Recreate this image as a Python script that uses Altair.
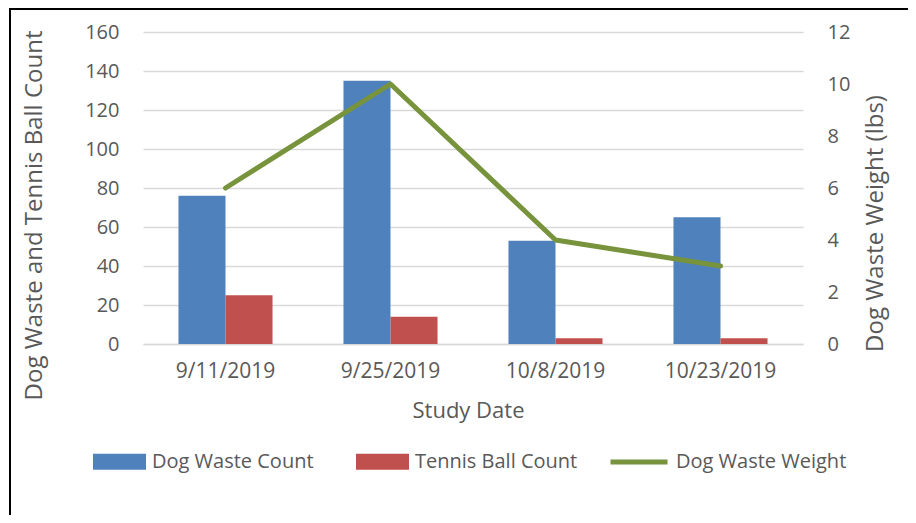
import altair as alt
import pandas as pd

dates = ["9/11/2019", "9/25/2019", "10/8/2019", "10/23/2019"]
dog_waste_count = [76, 135, 53, 65]
tennis_ball_count = [25, 14, 3, 3]
dog_waste_weight = [6, 10, 4, 3]
bar_series = ["Dog Waste Count", "Tennis Ball Count"]
line_series = "Dog Waste Weight"
left_ticks = [0, 20, 40, 60, 80, 100, 120, 140, 160]
right_ticks = [0, 2, 4, 6, 8, 10, 12]

FONT = "Open Sans"
TXT = "#595959"
GRID = "#D9D9D9"

bars_df = pd.DataFrame({
    "Date": dates * 2,
    "Series": [bar_series[0]] * 4 + [bar_series[1]] * 4,
    "Value": dog_waste_count + tennis_ball_count,
})
line_df = pd.DataFrame({"Date": dates, "Series": [line_series] * 4, "Weight": dog_waste_weight})
frame_df = pd.DataFrame({"k": [0]})

x_enc = alt.X(
    "Date:N", sort=dates,
    scale=alt.Scale(paddingInner=0.43, paddingOuter=0.215),
    axis=alt.Axis(title="Study Date", labelAngle=0, labelFont=FONT, labelFontSize=21,
                  labelColor=TXT, labelPadding=16, ticks=False, domainColor=GRID,
                  domainWidth=1.3, grid=False, titleFont=FONT, titleFontSize=22,
                  titleFontWeight="normal", titleColor=TXT, titleX=325, titleY=66,
                  titleBaseline="middle"),
)

bars = alt.Chart(bars_df).mark_bar().encode(
    x=x_enc,
    xOffset=alt.XOffset("Series:N", sort=bar_series, scale=alt.Scale(paddingInner=0, paddingOuter=0)),
    y=alt.Y("Value:Q", scale=alt.Scale(domain=[0, 160], nice=False),
            axis=alt.Axis(values=left_ticks, title="Dog Waste and Tennis Ball Count",
                          labelFont=FONT, labelFontSize=20, labelColor=TXT, labelPadding=24,
                          ticks=False, domain=False, grid=True, gridColor=GRID, gridWidth=1.3,
                          titleFont=FONT, titleFontSize=24, titleFontWeight="normal",
                          titleColor=TXT, titleAngle=-90, titleX=-109, titleY=183,
                          titleAlign="center", titleBaseline="middle")),
    color=alt.Color("Series:N", sort=bar_series,
                    scale=alt.Scale(domain=bar_series, range=["#4F81BD", "#C0504D"]),
                    legend=alt.Legend(orient="none", legendX=-50, legendY=403, direction="horizontal",
                                      title=None, symbolType="M-1,-0.3H1V0.3H-1Z", symbolSize=2809,
                                      symbolStrokeWidth=0, symbolOpacity=1, labelFont=FONT,
                                      labelFontSize=20, labelColor=TXT, labelOffset=6,
                                      labelLimit=400, columnPadding=42)),
)

line = alt.Chart(line_df).mark_line(strokeWidth=5, strokeCap="round", strokeJoin="round").encode(
    x=alt.X("Date:N", sort=dates),
    y=alt.Y("Weight:Q", scale=alt.Scale(domain=[0, 12], nice=False),
            axis=alt.Axis(orient="right", values=right_ticks, title="Dog Waste Weight (lbs)",
                          labelFont=FONT, labelFontSize=20, labelColor=TXT, labelPadding=24,
                          ticks=False, domain=False, grid=False,
                          titleFont=FONT, titleFontSize=24, titleFontWeight="normal",
                          titleColor=TXT, titleAngle=-90, titleX=72, titleY=191,
                          titleAlign="center", titleBaseline="middle")),
    color=alt.Color("Series:N",
                    scale=alt.Scale(domain=[line_series], range=["#77933C"]),
                    legend=alt.Legend(orient="none", legendX=465, legendY=399, direction="horizontal",
                                      title=None, symbolType="stroke", symbolSize=3249,
                                      symbolStrokeWidth=5, labelFont=FONT, labelFontSize=20,
                                      labelColor=TXT, labelOffset=6, labelLimit=400)),
)

frame_left = alt.Chart(frame_df).mark_rule(color="black", strokeWidth=2).encode(
    x=alt.value(-133), y=alt.value(-24), y2=alt.value(483))
frame_top = alt.Chart(frame_df).mark_rect(color="black").encode(
    x=alt.value(-134), x2=alt.value(765), y=alt.value(-24), y2=alt.value(-22))

chart = alt.layer(bars, line, frame_left, frame_top).resolve_scale(
    y="independent", color="independent"
).properties(
    width=660, height=312,
    padding={"left": 135, "top": 24, "right": 105, "bottom": 171},
    autosize=alt.AutoSizeParams(type="none"),
    background="white",
).configure_view(stroke="transparent", strokeWidth=0).configure_axisY(domain=False, ticks=False)

chart.save("out.html", embed_options={"renderer": "svg", "actions": False})
